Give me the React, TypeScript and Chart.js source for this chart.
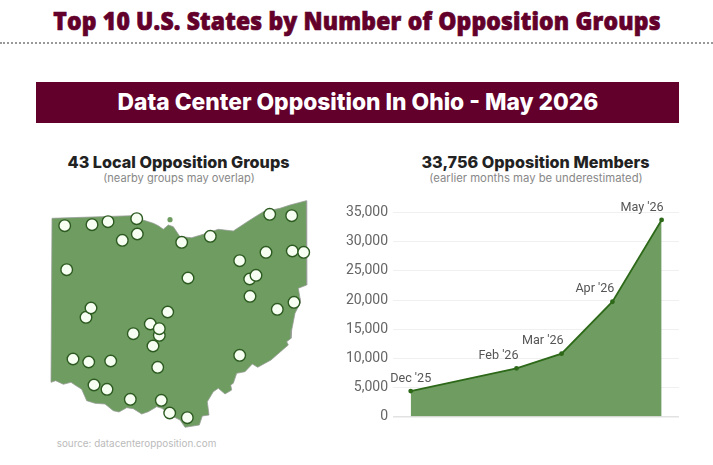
import React, { useEffect, useRef } from "react";
import { Chart, registerables } from "chart.js";

Chart.register(...registerables);

const pageTitle = "Top 10 U.S. States by Number of Opposition Groups";
const bannerTitle = "Data Center Opposition In Ohio - May 2026";
const mapTitle = "43 Local Opposition Groups";
const mapSubtitle = "(nearby groups may overlap)";
const lineTitle = "33,756 Opposition Members";
const lineSubtitle = "(earlier months may be underestimated)";
const sourceNote = "source: datacenteropposition.com";

const monthLabels = ["Dec '25", "Feb '26", "Mar '26", "Apr '26", "May '26"];
const monthDays = [0, 64.5, 92, 123, 153];
const memberCounts = [4375, 8295, 10795, 19716, 33756];
const yTicks = [0, 5000, 10000, 15000, 20000, 25000, 30000, 35000];

// Ohio outline and group locations, in map units
const outlineEast = [12, 91.7, 100, 113.3, 118.3, 123.3, 128.3, 133.3, 140, 151.7, 163.3, 178.3, 193.3, 210, 223.3, 240, 250, 266.3, 266.7, 258.3, 260, 260, 255, 251.7, 251, 246.7, 248.3, 243.3, 231, 217.7, 212.3, 205, 196.7, 193.3, 190.7, 191.7, 185, 178.3, 173.3, 167.3, 169, 162.3, 159.3, 145, 140, 132, 126, 121.7, 116.7, 108.3, 101.7, 93.3, 86.7, 79, 73.3, 65, 55, 46.7, 41.7, 35, 31, 23.3, 15.7, 11];
const outlineNorth = [216.7, 219.3, 216, 211.7, 209.3, 205.7, 210, 208.3, 198.3, 197.3, 200.7, 205.7, 204, 215, 223.3, 226.7, 230, 234.3, 150, 146.7, 136.7, 131.7, 121.7, 105, 96.7, 93.3, 90, 85.7, 75, 67.7, 71, 63.3, 61.7, 51.7, 50, 45, 41, 46.7, 43.3, 33.3, 20, 19, 10, 7.7, 15, 19, 24, 26.7, 28.3, 23.3, 21, 26.3, 27.3, 23, 24.3, 31, 31.7, 34.3, 45.7, 50, 52.7, 50.7, 54.3, 52.7];
const islandEast = [130];
const islandNorth = [215.3];
const groupEast = [24.7, 52, 68, 96.7, 97.3, 82.3, 141.7, 170.3, 229.7, 251.7, 226, 252.3, 263.7, 199.7, 26.7, 148, 209.7, 216, 210, 254, 237.3, 46, 51, 127.7, 110.3, 119.3, 119.3, 93.3, 113, 199.7, 33, 48.7, 70.7, 117.7, 54, 67, 90.3, 121.3, 129.7, 147.3];
const groupNorth = [209.3, 210.3, 213.3, 216.3, 201, 194.7, 192.7, 198.7, 220.7, 219.3, 182.7, 184, 182.7, 174.3, 165.3, 157, 156, 159.7, 138.7, 132.7, 125.7, 117.7, 127, 123, 111, 99.7, 106.3, 101.3, 89, 79.7, 76, 73, 74, 67.7, 50, 45.7, 35.7, 34.7, 22, 17.3];

const zip = (xs: number[], ys: number[]) => xs.map((x, i) => ({ x, y: ys[i] }));

const MAROON = "#62002b";
const GREEN = "rgb(111,157,97)";
const DARK = "rgb(45,105,25)";
const FONT = "Inter, 'Liberation Sans', sans-serif";
const CHART_FONT = "Roboto, 'Liberation Sans', sans-serif";

const pointLabels = {
  id: "pointLabels",
  afterDatasetsDraw(chart: any) {
    const { ctx } = chart;
    const meta = chart.getDatasetMeta(0);
    ctx.save();
    ctx.font = `12.6px ${CHART_FONT}`;
    ctx.fillStyle = "#555";
    ctx.textBaseline = "middle";
    meta.data.forEach((pt: any, i: number) => {
      ctx.textAlign = i === 0 ? "center" : "right";
      ctx.fillText(monthLabels[i], i === 0 ? pt.x : pt.x + 2, pt.y - 12.5);
    });
    ctx.restore();
  },
};

function Label(props: { text: string; cx: number; cy: number; style: React.CSSProperties }) {
  return (
    <div
      style={{
        position: "absolute",
        left: props.cx - 400,
        width: 800,
        top: props.cy - 20,
        height: 40,
        lineHeight: "40px",
        textAlign: "center",
        whiteSpace: "nowrap",
        ...props.style,
      }}
    >
      {props.text}
    </div>
  );
}

export default function App() {
  const mapRef = useRef<HTMLCanvasElement>(null);
  const lineRef = useRef<HTMLCanvasElement>(null);

  useEffect(() => {
    const mapChart = new Chart(mapRef.current!, {
      type: "scatter",
      data: {
        datasets: [
          {
            data: zip(groupEast, groupNorth),
            pointRadius: 5.8,
            pointBackgroundColor: "#f7fff3",
            pointBorderColor: "#2c5a20",
            pointBorderWidth: 1.4,
            showLine: false,
            order: 0,
          },
          {
            data: zip(islandEast, islandNorth),
            pointRadius: 2.6,
            pointBackgroundColor: GREEN,
            pointBorderWidth: 0,
            showLine: false,
            order: 1,
          },
          {
            data: zip([...outlineEast, outlineEast[0]], [...outlineNorth, outlineNorth[0]]),
            showLine: true,
            fill: "shape",
            backgroundColor: GREEN,
            borderColor: "rgba(150,155,150,0.75)",
            borderWidth: 1,
            pointRadius: 0,
            tension: 0,
            order: 2,
          },
        ],
      },
      options: {
        animation: false,
        responsive: false,
        layout: { padding: 0, autoPadding: false },
        plugins: { legend: { display: false }, tooltip: { enabled: false } },
        scales: {
          x: { type: "linear", min: 0, max: 280, display: false },
          y: { type: "linear", min: 0, max: 240, display: false },
        },
      },
    } as any);

    const lineChart = new Chart(lineRef.current!, {
      type: "line",
      data: {
        datasets: [
          {
            data: zip(monthDays, memberCounts),
            fill: "origin",
            backgroundColor: GREEN,
            borderColor: DARK,
            borderWidth: 1.8,
            pointRadius: 2.4,
            pointBackgroundColor: DARK,
            pointBorderColor: DARK,
            pointBorderWidth: 0,
            tension: 0,
            clip: false,
          },
        ],
      },
      options: {
        animation: false,
        responsive: false,
        layout: { padding: { top: 22.7, right: 11, bottom: 12, left: 0 }, autoPadding: false },
        plugins: { legend: { display: false }, tooltip: { enabled: false } },
        scales: {
          x: { type: "linear", min: -10.8, max: 163.6, display: false },
          y: {
            type: "linear",
            min: 0,
            max: 35000,
            afterFit: (s: any) => {
              s.width = 53;
            },
            afterBuildTicks: (s: any) => {
              s.ticks = yTicks.map((value) => ({ value }));
            },
            border: { display: false },
            grid: {
              drawTicks: false,
              color: (c: any) => (c.tick.value === 0 ? "#e2e2e2" : "#f0f0f0"),
              lineWidth: (c: any) => (c.tick.value === 0 ? 1.5 : 1),
            },
            ticks: {
              padding: 5,
              color: "#666",
              font: { family: CHART_FONT, size: 14 },
              callback: (v: any) => Number(v).toLocaleString("en-US"),
            },
          },
        },
      },
      plugins: [pointLabels],
    } as any);

    return () => {
      mapChart.destroy();
      lineChart.destroy();
    };
  }, []);

  return (
    <div style={{ position: "absolute", left: 0, top: 0, width: 713, height: 465, background: "#fff", overflow: "hidden", fontFamily: FONT }}>
      <Label
        text={pageTitle}
        cx={357}
        cy={20}
        style={{ color: MAROON, fontFamily: "'Open Sans', sans-serif", fontWeight: 800, fontSize: 25, letterSpacing: 0.2, WebkitTextStroke: "0.7px " + MAROON, transform: "scaleX(0.915)" }}
      />
      <div style={{ position: "absolute", left: 0, top: 42, width: 713, borderTop: "2px dotted #999" }} />
      <div style={{ position: "absolute", left: 36, top: 82, width: 643, height: 41, background: MAROON }} />
      <Label text={bannerTitle} cx={358} cy={102} style={{ color: "#fff", fontWeight: 800, fontSize: 22.8 }} />
      <Label text={mapTitle} cx={178.5} cy={162} style={{ color: "#222", fontWeight: 800, fontSize: 16.2 }} />
      <Label text={mapSubtitle} cx={179} cy={178} style={{ color: "#888", fontSize: 11.1 }} />
      <Label text={lineTitle} cx={535.5} cy={162} style={{ color: "#222", fontWeight: 800, fontSize: 16.2 }} />
      <Label text={lineSubtitle} cx={536} cy={178} style={{ color: "#888", fontSize: 11.3 }} />
      <Label text={sourceNote} cx={136.5} cy={443} style={{ color: "#bbb", fontSize: 9.9 }} />
      <canvas ref={mapRef} width={280} height={240} style={{ position: "absolute", left: 40, top: 195 }} />
      <canvas ref={lineRef} width={350} height={240} style={{ position: "absolute", left: 340, top: 190 }} />
    </div>
  );
}
